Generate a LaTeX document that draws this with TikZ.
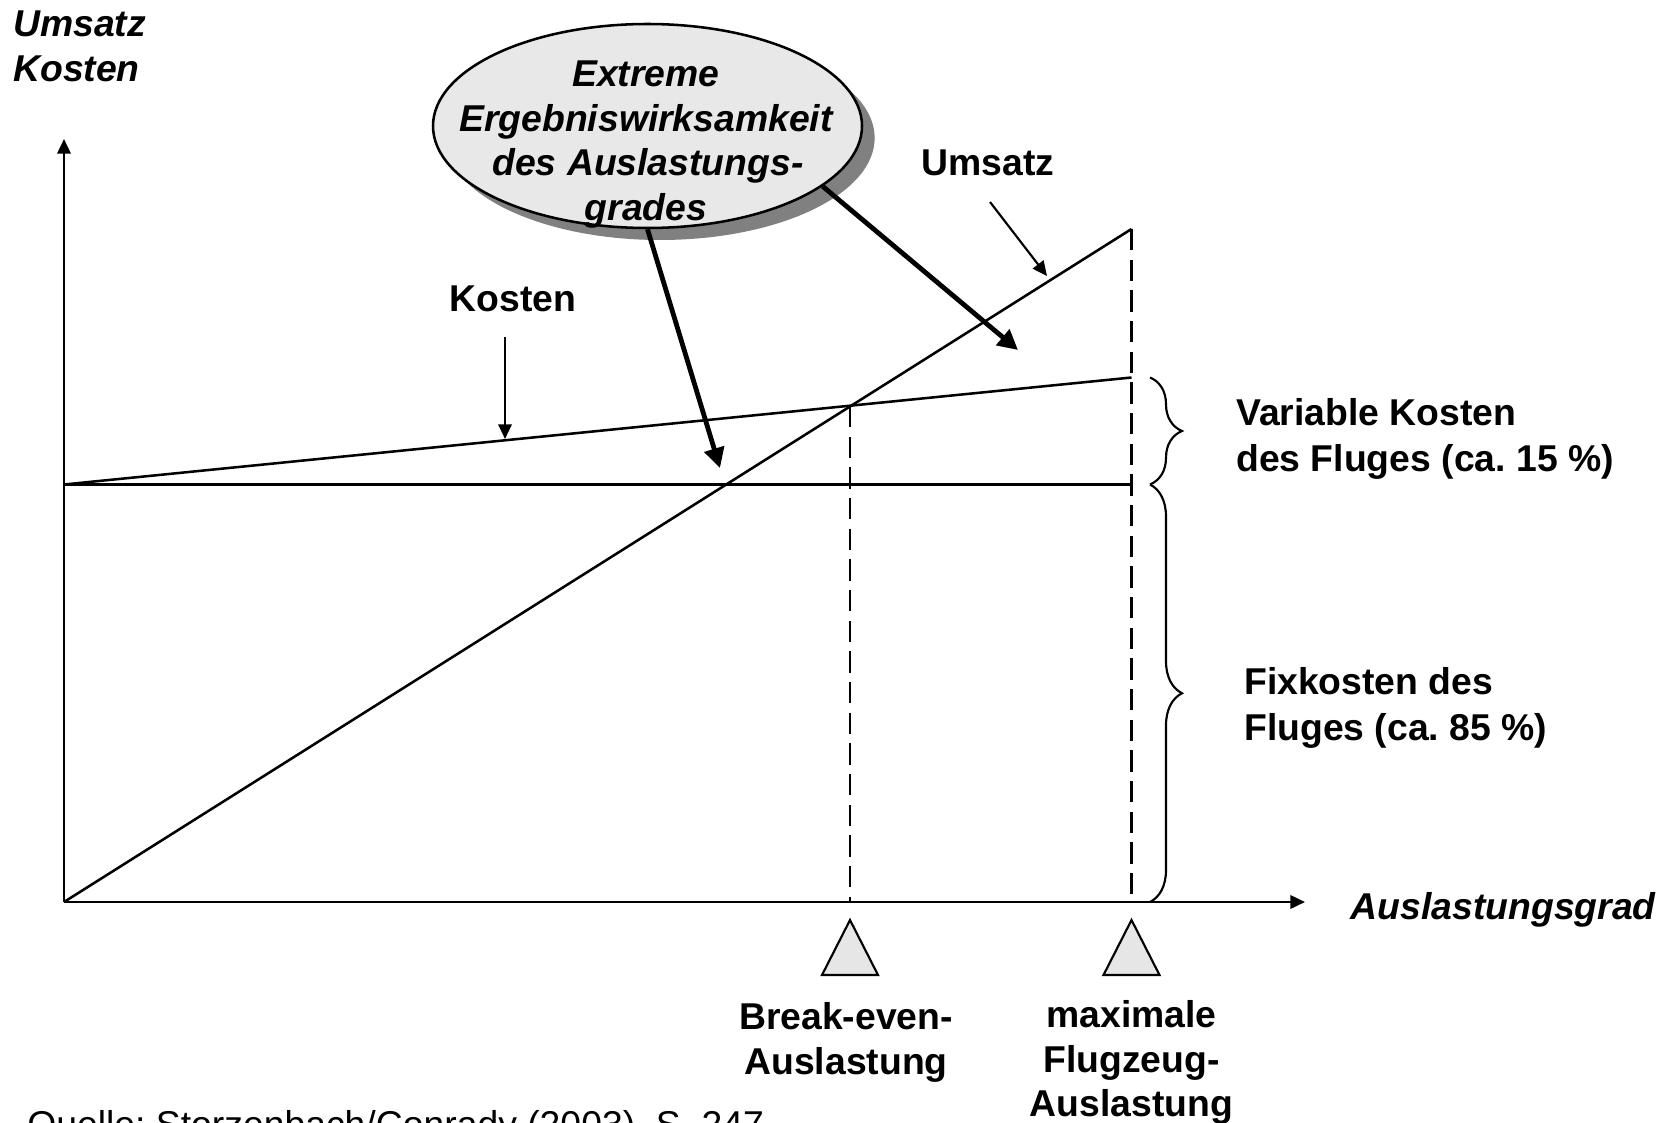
\documentclass[tikz,border=0pt]{standalone}
\usepackage{fontspec}
\setmainfont{Liberation Sans}
\usetikzlibrary{arrows.meta,shapes.geometric,decorations.pathreplacing,shadows,calc}
\definecolor{bubble}{HTML}{E8E8E8}
\definecolor{bubbleshadow}{HTML}{808080}
\definecolor{marker}{HTML}{E6E6E6}
\frenchspacing

\begin{document}
\begin{tikzpicture}[x=0.75pt,y=-0.75pt,
  every node/.style={inner sep=0pt},
  txt/.style={font=\fontsize{28}{33.5}\selectfont\bfseries},
  itxt/.style={font=\fontsize{28}{33.5}\selectfont\bfseries\itshape},
  rtxt/.style={font=\fontsize{28}{33.5}\selectfont\mdseries},
  lc/.style={anchor=base},
  lw/.style={anchor=base west},
  le/.style={anchor=base east},
  curve/.style={line width=1.9pt},
  axis/.style={line width=1.9pt,-{Triangle[length=11pt,width=10pt]}},
  pointer/.style={line width=1.6pt,-{Triangle[length=11pt,width=10pt]}},
  fatarrow/.style={line width=3.6pt,-{Triangle[length=15pt,width=15pt]}},
  guide/.style={line width=1.9pt,dash pattern=on 16pt off 7pt},
  bracket/.style={line width=1.6pt,decorate,decoration={brace,amplitude=24pt}},
  marktri/.style={line width=1.6pt,fill=marker,line join=miter},
]
\useasboundingbox (0,0) rectangle (1677,1123);

% key points of the chart
\coordinate (o)    at (64,902);
\coordinate (ytop) at (64,139);
\coordinate (xend) at (1305,902);
\coordinate (fix)  at (64,484.5);
\coordinate (fixr) at (1131.5,484.5);
\coordinate (costr) at (1131.5,377.5);
\coordinate (revr) at (1131.5,229);
\coordinate (be)   at (850,406);

% axes
\draw[axis] (o) -- (ytop);
\draw[axis] (o) -- (xend);

% fixed costs, total costs, revenue
\draw[curve] (fix) -- (fixr);
\draw[curve] (fix) -- (costr);
\draw[curve] (o) -- (revr);

% vertical guides
\draw[guide] (be) -- (be |- o);
\draw[guide] (revr) -- (revr |- o);

% braces for the cost shares
\draw[bracket] (1150,377.5) -- (1150,484.5);
\draw[bracket] (1150,484.5) -- (1150,902);

% markers below the axis
\draw[marktri] ($(be |- o)+(0,18)$) -- ++(28,55) -- ++(-56,0) -- cycle;
\draw[marktri] ($(revr |- o)+(0,18)$) -- ++(28,55) -- ++(-56,0) -- cycle;

% axis titles
\node[itxt,lw] (yl1) at (13,37) {Umsatz};
\node[itxt,lw] (yl2) at (13,82) {Kosten};
\node[itxt,le] (xl) at (1656,919) {Auslastungsgrad};

% curve labels with pointers
\node[txt,lc] (kost) at (513,311) {Kosten};
\coordinate (kostA) at (505,337);
\coordinate (kostB) at (505,439);
\draw[pointer] (kostA) -- (kostB);

\node[txt,lc] (ums) at (988,176) {Umsatz};
\coordinate (umsA) at (990,202);
\coordinate (umsB) at (1047,276);
\draw[pointer] (umsA) -- (umsB);

% cost share labels
\node[txt,lw] (var1) at (1236,425.5) {Variable Kosten};
\node[txt,lw] (var2) at (1236,471) {des Fluges (ca. 15 \%)};
\node[txt,lw] (fx1) at (1244,694.5) {Fixkosten des};
\node[txt,lw] (fx2) at (1244,740.5) {Fluges (ca. 85 \%)};

% marker labels
\node[txt,lc] (be1) at (846,1029) {Break-even-};
\node[txt,lc] (be2) at (846,1074) {Auslastung};
\node[txt,lc] (mx1) at (1131.5,1027) {maximale};
\node[txt,lc] (mx2) at (1131.5,1072) {Flugzeug-};
\node[txt,lc] (mx3) at (1131.5,1116) {Auslastung};

% call-out bubble
\node[ellipse,draw,line width=1.9pt,fill=bubble,
      minimum width=321.75pt,minimum height=153pt,
      drop shadow={shadow xshift=9.5pt,shadow yshift=-9pt,fill=bubbleshadow,opacity=1}]
      (ell) at (647.5,126) {};
\node[itxt,lc] (e1) at (646,87) {Extreme};
\node[itxt,lc] (e2) at (646,131.5) {Ergebniswirksamkeit};
\node[itxt,lc] (e3) at (648,176) {des Auslastungs-};
\node[itxt,lc] (e4) at (646,220.5) {grades};

\coordinate (tipA) at (720,468);
\coordinate (tipB) at (1018,350);
\draw[fatarrow] (ell.south) -- (tipA);
\draw[fatarrow] (ell.-19) -- (tipB);

% source line
\node[rtxt,lw] (src) at (27,1137) {Quelle: Storzenbach/Conrady (2003), S. 247};
\end{tikzpicture}
\end{document}
